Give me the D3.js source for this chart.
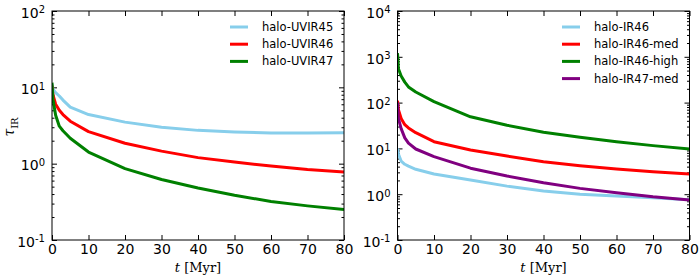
<!DOCTYPE html>
<head>
  <meta charset="utf-8">
  <title>tau IR</title>
  <style>
    body { margin: 0; background: #fff; }
    text { font-family: "DejaVu Sans", sans-serif; }
  </style>
</head>
<body>
<div id="chart"></div>
<script src="https://d3js.org/d3.v7.min.js"></script>
<script>
// time in Myr
var times = [0, 0.25, 1, 2, 3, 5, 10, 20, 30, 40, 50, 60, 70, 80];

// left panel
var uvir45 = [11, 9.5, 8.5, 7.7, 6.8, 5.5, 4.4, 3.5, 3.0, 2.73, 2.6, 2.53, 2.53, 2.55];
var uvir46 = [10.5, 8, 6.0, 5.0, 4.4, 3.6, 2.63, 1.85, 1.46, 1.2, 1.05, 0.93, 0.84, 0.78];
var uvir47 = [11.5, 7, 4.3, 3.1, 2.7, 2.15, 1.42, 0.86, 0.62, 0.48, 0.385, 0.32, 0.28, 0.25];

// right panel
var ir46 = [10, 7.5, 5.3, 4.5, 4.1, 3.5, 2.76, 2.04, 1.5, 1.18, 1.0, 0.91, 0.84, 0.76];
var ir46med = [110, 70, 45, 33, 28, 22, 14, 9.2, 6.8, 5.1, 4.2, 3.55, 3.1, 2.76];
var ir46high = [1200, 550, 380, 280, 220, 170, 105, 49, 32, 22.5, 17.5, 14, 11.5, 9.7];
var ir47med = [100, 45, 27, 17, 13, 9.7, 6.6, 3.7, 2.5, 1.78, 1.34, 1.08, 0.88, 0.75];

var xTicks = [0, 10, 20, 30, 40, 50, 60, 70, 80];

var width = 700, height = 278;

var svg = d3.select("#chart").append("svg")
  .attr("width", width)
  .attr("height", height);

svg.append("rect").attr("width", width).attr("height", height).attr("fill", "#fff");

function panel(opts) {
  var x = d3.scaleLinear().domain([0, 80]).range([opts.left, opts.right]);
  var y = d3.scaleLog().domain(opts.ydomain).range([240, 11]);
  var g = svg.append("g");

  // minor ticks on y
  var minor = [];
  var e0 = Math.log10(opts.ydomain[0]), e1 = Math.log10(opts.ydomain[1]);
  for (var e = e0; e < e1; e++) {
    for (var k = 2; k <= 9; k++) minor.push(k * Math.pow(10, e));
  }
  var majors = d3.range(e0, e1 + 1).map(function(e) { return Math.pow(10, e); });

  g.append("g").attr("transform", "translate(" + opts.left + ",0)")
    .call(d3.axisLeft(y).tickValues(minor).tickSize(-2.5).tickFormat(""));
  g.append("g").attr("transform", "translate(" + opts.right + ",0)")
    .call(d3.axisRight(y).tickValues(minor).tickSize(-2.5).tickFormat(""));
  g.append("g").attr("transform", "translate(" + opts.right + ",0)")
    .call(d3.axisRight(y).tickValues(majors).tickSize(-5).tickFormat(""));

  var yl = g.append("g").attr("transform", "translate(" + opts.left + ",0)")
    .call(d3.axisLeft(y).tickValues(majors).tickSize(-5).tickPadding(7)
      .tickFormat(function() { return "10"; }));
  yl.selectAll("text").each(function(d) {
    d3.select(this).append("tspan")
      .attr("dy", "-0.45em")
      .attr("font-size", "10px")
      .text(Math.round(Math.log10(d)));
  });
  yl.selectAll("text").attr("font-size", "14px").attr("fill", "#000").attr("dy", "0.45em");

  g.append("g").attr("transform", "translate(0,240)")
    .call(d3.axisBottom(x).tickValues(xTicks).tickSize(-5).tickPadding(4))
    .selectAll("text").attr("font-size", "14px").attr("fill", "#000");
  g.append("g").attr("transform", "translate(0,11)")
    .call(d3.axisTop(x).tickValues(xTicks).tickSize(-5).tickFormat(""));

  g.selectAll(".domain").remove();
  g.selectAll(".tick line").attr("stroke", "#000");

  var line = d3.line()
    .x(function(d, i) { return x(times[i]); })
    .y(function(d) { return y(d); });

  var clipId = "clip" + Math.round(opts.left);
  svg.append("clipPath").attr("id", clipId).append("rect")
    .attr("x", opts.left).attr("y", 11)
    .attr("width", opts.right - opts.left).attr("height", 229);

  var lg = svg.append("g").attr("clip-path", "url(#" + clipId + ")");
  opts.series.forEach(function(s) {
    lg.append("path")
      .datum(s.values)
      .attr("d", line)
      .attr("fill", "none")
      .attr("stroke", s.color)
      .attr("stroke-width", 3)
      .attr("stroke-linejoin", "round");
  });

  svg.append("rect")
    .attr("x", opts.left).attr("y", 11)
    .attr("width", opts.right - opts.left).attr("height", 229)
    .attr("fill", "none").attr("stroke", "#000").attr("stroke-width", 1);

  // legend
  var leg = svg.append("g");
  opts.series.forEach(function(s, i) {
    var yy = 27 + i * 17.2;
    leg.append("line")
      .attr("x1", opts.legX).attr("x2", opts.legX + 18)
      .attr("y1", yy).attr("y2", yy)
      .attr("stroke", s.color).attr("stroke-width", 3);
    leg.append("text")
      .attr("x", opts.legX + 32).attr("y", yy)
      .attr("dy", "0.35em")
      .attr("font-size", "11.5px")
      .text(s.name);
  });

  // x label
  var xl = svg.append("text")
    .attr("x", (opts.left + opts.right) / 2)
    .attr("y", 272)
    .attr("text-anchor", "middle")
    .style("font-family", "'DejaVu Serif', serif")
    .attr("font-size", "13px");
  xl.append("tspan").style("font-style", "italic").text("t");
  xl.append("tspan").text("  [Myr]");
}

panel({
  left: 52, right: 344, ydomain: [0.1, 100], legX: 230,
  series: [
    { name: "halo-UVIR45", values: uvir45, color: "#87ceeb" },
    { name: "halo-UVIR46", values: uvir46, color: "#ff0000" },
    { name: "halo-UVIR47", values: uvir47, color: "#008000" }
  ]
});

panel({
  left: 397.5, right: 689.5, ydomain: [0.1, 10000], legX: 562,
  series: [
    { name: "halo-IR46", values: ir46, color: "#87ceeb" },
    { name: "halo-IR46-med", values: ir46med, color: "#ff0000" },
    { name: "halo-IR46-high", values: ir46high, color: "#008000" },
    { name: "halo-IR47-med", values: ir47med, color: "#800080" }
  ]
});

// y axis label
var ylab = svg.append("text")
  .attr("transform", "translate(14,127) rotate(-90)")
  .attr("text-anchor", "middle")
  .style("font-family", "'DejaVu Serif', serif")
  .attr("font-size", "14px");
ylab.append("tspan").style("font-style", "italic").text("τ");
ylab.append("tspan").attr("font-size", "10px").attr("dy", "0.35em").text("IR");
</script>
</body>
